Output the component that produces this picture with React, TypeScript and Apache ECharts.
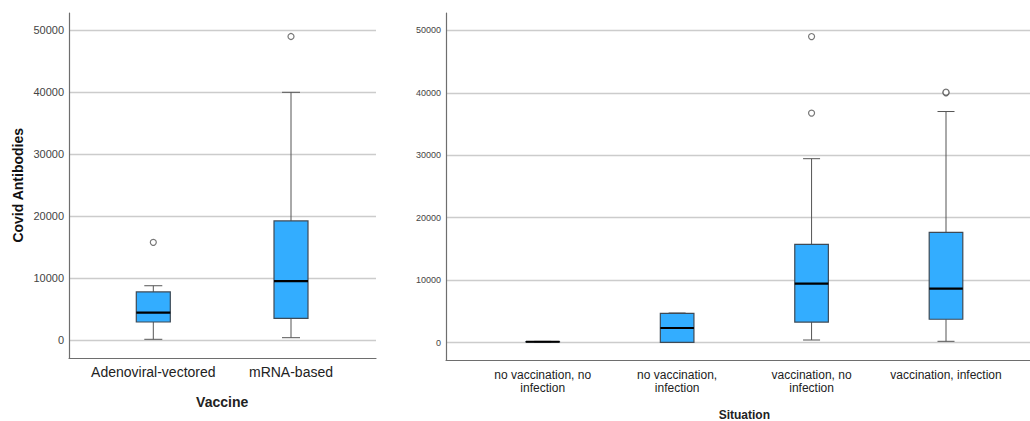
import React, { useEffect, useRef } from "react";
import * as echarts from "echarts";

// ---------- Data ----------
const vaccineCategories = ["Adenoviral-vectored", "mRNA-based"];
const vaccineMin = [160, 420];
const vaccineQ1 = [2950, 3550];
const vaccineMedian = [4450, 9560];
const vaccineQ3 = [7800, 19250];
const vaccineMax = [8800, 40000];
const vaccineOutliers: [number, number][] = [
  [0, 15800],
  [1, 49000],
];

const situationCategories = [
  "no vaccination, no\ninfection",
  "no vaccination,\ninfection",
  "vaccination, no\ninfection",
  "vaccination, infection",
];
const situationMin = [90, 40, 430, 220];
const situationQ1 = [120, 60, 3300, 3750];
const situationMedian = [150, 2350, 9450, 8650];
const situationQ3 = [180, 4700, 15750, 17650];
const situationMax = [210, 4750, 29450, 37000];
const situationOutliers: [number, number][] = [
  [2, 49000],
  [2, 36750],
  [3, 40000],
  [3, 40100],
];

const yTicks = [0, 10000, 20000, 30000, 40000, 50000];
const yAxisTitle = "Covid Antibodies";
const leftXTitle = "Vaccine";
const rightXTitle = "Situation";

// ---------- Styles ----------
const FONT = 'Arial, "Liberation Sans", sans-serif';
const BOX_FILL = "#33adff";
const BOX_STROKE = "#3e4a56";
const WHISKER = "#555555";
const GRID_LINE = "#cccccc";
const AXIS_LINE = "#6e6e6e";

function buildBoxData(
  min: number[],
  q1: number[],
  med: number[],
  q3: number[],
  max: number[]
) {
  return min.map((_, i) => [i, min[i], q1[i], med[i], q3[i], max[i]]);
}

function makeRenderItem(halfBox: number, halfCap: number) {
  return (params: any, api: any) => {
    const idx = api.value(0);
    const pMin = api.coord([idx, api.value(1)]);
    const pQ1 = api.coord([idx, api.value(2)]);
    const pMed = api.coord([idx, api.value(3)]);
    const pQ3 = api.coord([idx, api.value(4)]);
    const pMax = api.coord([idx, api.value(5)]);
    const cx = pMed[0];
    const ws = { stroke: WHISKER, lineWidth: 1 };
    return {
      type: "group",
      children: [
        { type: "line", shape: { x1: cx, y1: pMax[1], x2: cx, y2: pQ3[1] }, style: ws },
        { type: "line", shape: { x1: cx, y1: pQ1[1], x2: cx, y2: pMin[1] }, style: ws },
        { type: "line", shape: { x1: cx - halfCap, y1: pMax[1], x2: cx + halfCap, y2: pMax[1] }, style: ws },
        { type: "line", shape: { x1: cx - halfCap, y1: pMin[1], x2: cx + halfCap, y2: pMin[1] }, style: ws },
        {
          type: "rect",
          shape: { x: cx - halfBox, y: pQ3[1], width: halfBox * 2, height: pQ1[1] - pQ3[1] },
          style: { fill: BOX_FILL, stroke: BOX_STROKE, lineWidth: 1.2 },
        },
        {
          type: "line",
          shape: { x1: cx - halfBox, y1: pMed[1], x2: cx + halfBox, y2: pMed[1] },
          style: { stroke: "#000000", lineWidth: 2.2 },
        },
      ],
    };
  };
}

const plainNumber = (v: number) => String(v);

export default function App() {
  const ref = useRef<HTMLDivElement>(null);

  useEffect(() => {
    if (!ref.current) return;
    const chart = echarts.init(ref.current, undefined, { renderer: "svg" });

    // Layout (px)
    const L = { left: 69, right: 376, top: 13, axisBottom: 358, y50: 30.3, y0: 340.3, c0: 153.3, c1: 291 };
    const R = { left: 446, right: 1030, top: 13, axisBottom: 360, y50: 30.3, y0: 342.7, c0: 542.7, c3: 946 };
    const lBand = L.c1 - L.c0;
    const rBand = (R.c3 - R.c0) / 3;

    const hiddenValue = (gridIndex: number) => ({
      type: "value",
      gridIndex,
      show: false,
      min: 0,
      max: 1,
    });

    const g = (left: number, top: number, width: number, height: number) => ({
      left,
      top,
      width,
      height,
      containLabel: false,
      outerBoundsMode: "none",
    });

    const option: any = {
      animation: false,
      backgroundColor: "#ffffff",
      textStyle: { fontFamily: FONT },
      grid: [
        g(L.left, L.top, L.right - L.left, L.axisBottom - L.top),
        g(L.left, L.y50, L.right - L.left, L.y0 - L.y50),
        g(L.c0 - lBand / 2, L.y50, lBand * 2, L.y0 - L.y50),
        g(R.left, R.top, R.right - R.left, R.axisBottom - R.top),
        g(R.left, R.y50, R.right - R.left, R.y0 - R.y50),
        g(R.c0 - rBand / 2, R.y50, rBand * 4, R.y0 - R.y50),
      ],
      xAxis: [
        {
          type: "value",
          gridIndex: 0,
          min: 0,
          max: 1,
          axisLine: { show: true, onZero: false, lineStyle: { color: AXIS_LINE, width: 1.2 } },
          axisTick: { show: false },
          axisLabel: { show: false },
          splitLine: { show: false },
        },
        hiddenValue(1),
        {
          type: "category",
          gridIndex: 2,
          data: vaccineCategories,
          axisLine: { show: false },
          axisTick: { show: false },
          axisLabel: { interval: 0, margin: 24.5, fontSize: 14, color: "#222222", fontFamily: FONT },
          name: leftXTitle,
          nameLocation: "middle",
          nameGap: 61.5,
          nameTextStyle: { fontSize: 14, fontWeight: "bold", color: "#222222", fontFamily: FONT, verticalAlign: "middle" },
        },
        {
          type: "value",
          gridIndex: 3,
          min: 0,
          max: 1,
          axisLine: { show: true, onZero: false, lineStyle: { color: AXIS_LINE, width: 1.2 } },
          axisTick: { show: false },
          axisLabel: { show: false },
          splitLine: { show: false },
        },
        hiddenValue(4),
        {
          type: "category",
          gridIndex: 5,
          data: situationCategories,
          axisLine: { show: false },
          axisTick: { show: false },
          axisLabel: { interval: 0, margin: 26, fontSize: 12, lineHeight: 13, color: "#222222", fontFamily: FONT },
          name: rightXTitle,
          nameLocation: "middle",
          nameGap: 72.3,
          nameTextStyle: { fontSize: 12, fontWeight: "bold", color: "#222222", fontFamily: FONT, verticalAlign: "middle" },
        },
      ],
      yAxis: [
        {
          type: "value",
          gridIndex: 0,
          min: 0,
          max: 1,
          axisLine: { show: true, lineStyle: { color: AXIS_LINE, width: 1.2 } },
          axisTick: { show: false },
          axisLabel: { show: false },
          splitLine: { show: false },
        },
        {
          type: "value",
          gridIndex: 1,
          min: yTicks[0],
          max: yTicks[yTicks.length - 1],
          interval: yTicks[1] - yTicks[0],
          axisLine: { show: false },
          axisTick: { show: false },
          axisLabel: { margin: 5, fontSize: 11, color: "#444444", fontFamily: FONT, formatter: plainNumber },
          splitLine: { show: true, lineStyle: { color: GRID_LINE, width: 1.4 } },
          name: yAxisTitle,
          nameLocation: "middle",
          nameGap: 50.7,
          nameRotate: 90,
          nameTextStyle: { fontSize: 14, fontWeight: "bold", color: "#111111", fontFamily: FONT, verticalAlign: "middle" },
        },
        {
          type: "value",
          gridIndex: 2,
          show: false,
          min: yTicks[0],
          max: yTicks[yTicks.length - 1],
        },
        {
          type: "value",
          gridIndex: 3,
          min: 0,
          max: 1,
          axisLine: { show: true, lineStyle: { color: AXIS_LINE, width: 1.2 } },
          axisTick: { show: false },
          axisLabel: { show: false },
          splitLine: { show: false },
        },
        {
          type: "value",
          gridIndex: 4,
          min: yTicks[0],
          max: yTicks[yTicks.length - 1],
          interval: yTicks[1] - yTicks[0],
          axisLine: { show: false },
          axisTick: { show: false },
          axisLabel: { margin: 5, fontSize: 9, color: "#444444", fontFamily: FONT, formatter: plainNumber },
          splitLine: { show: true, lineStyle: { color: GRID_LINE, width: 1.4 } },
        },
        {
          type: "value",
          gridIndex: 5,
          show: false,
          min: yTicks[0],
          max: yTicks[yTicks.length - 1],
        },
      ],
      series: [
        {
          type: "custom",
          xAxisIndex: 2,
          yAxisIndex: 2,
          renderItem: makeRenderItem(17, 9),
          encode: { x: 0, y: [1, 2, 3, 4, 5] },
          data: buildBoxData(vaccineMin, vaccineQ1, vaccineMedian, vaccineQ3, vaccineMax),
          z: 3,
        },
        {
          type: "scatter",
          xAxisIndex: 2,
          yAxisIndex: 2,
          symbol: "circle",
          symbolSize: 6,
          itemStyle: { color: "#ffffff", borderColor: "#555555", borderWidth: 1.2 },
          data: vaccineOutliers,
          z: 4,
        },
        {
          type: "custom",
          xAxisIndex: 5,
          yAxisIndex: 5,
          renderItem: makeRenderItem(16.8, 8.5),
          encode: { x: 0, y: [1, 2, 3, 4, 5] },
          data: buildBoxData(situationMin, situationQ1, situationMedian, situationQ3, situationMax),
          z: 3,
        },
        {
          type: "scatter",
          xAxisIndex: 5,
          yAxisIndex: 5,
          symbol: "circle",
          symbolSize: 6,
          itemStyle: { color: "#ffffff", borderColor: "#555555", borderWidth: 1.2 },
          data: situationOutliers,
          z: 4,
        },
      ],
    };

    chart.setOption(option);
    return () => chart.dispose();
  }, []);

  return (
    <div
      ref={ref}
      style={{ position: "fixed", left: 0, top: 0, width: 1030, height: 421, background: "#ffffff" }}
    />
  );
}
